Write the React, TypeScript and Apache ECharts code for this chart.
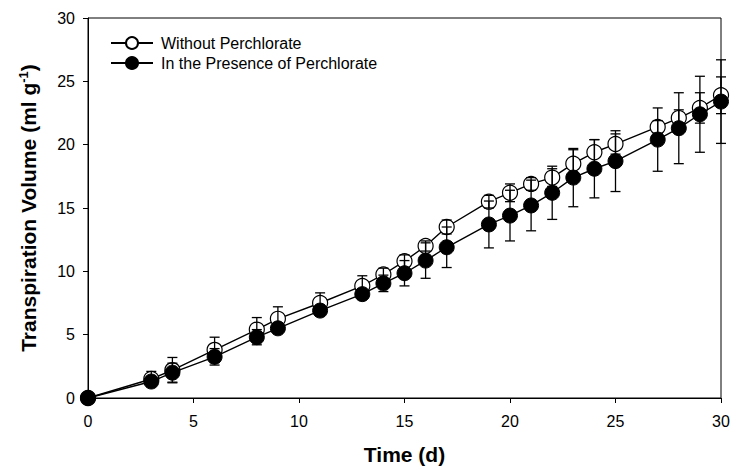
import React, { useEffect, useRef } from "react";
import * as echarts from "echarts";

const days = [0, 3, 4, 6, 8, 9, 11, 13, 14, 15, 16, 17, 19, 20, 21, 22, 23, 24, 25, 27, 28, 29, 30];
const withoutMean = [0, 1.5, 2.2, 3.8, 5.4, 6.25, 7.5, 8.85, 9.75, 10.8, 12.0, 13.5, 15.5, 16.2, 16.9, 17.4, 18.5, 19.4, 20.05, 21.4, 22.1, 22.9, 23.9];
const withoutErr = [0, 0.6, 1.0, 1.0, 0.95, 0.95, 0.8, 0.8, 0.5, 0.5, 0.4, 0.55, 0.5, 0.7, 0.5, 0.7, 1.1, 1.0, 0.8, 0.5, 0.65, 1.2, 1.45];
const withMean = [0, 1.3, 2.0, 3.25, 4.8, 5.5, 6.9, 8.2, 9.05, 9.85, 10.85, 11.9, 13.7, 14.4, 15.2, 16.2, 17.4, 18.1, 18.7, 20.4, 21.3, 22.4, 23.4];
const withErr = [0, 0.3, 0.75, 0.65, 0.6, 0.4, 0.3, 0.4, 0.65, 1.0, 1.4, 1.6, 1.85, 2.0, 2.0, 2.1, 2.3, 2.3, 2.4, 2.5, 2.8, 3.0, 3.3];
const xTicks = [0, 5, 10, 15, 20, 25, 30];
const yTicks = [0, 5, 10, 15, 20, 25, 30];
const seriesNames = ["Without Perchlorate", "In the Presence of Perchlorate"];

const FONT = "'Liberation Sans', Arial, sans-serif";

function errorData(mean: number[], err: number[]) {
  return days.map((d, i) => [d, mean[i] - err[i], mean[i] + err[i]]);
}

function renderErr(params: any, api: any) {
  const x = api.value(0);
  const lo = api.value(1);
  const hi = api.value(2);
  if (hi - lo <= 0) return null;
  const pLo = api.coord([x, lo]);
  const pHi = api.coord([x, hi]);
  const hw = 5;
  const style = { stroke: "#000", lineWidth: 1.3 };
  return {
    type: "group",
    children: [
      { type: "line", shape: { x1: pLo[0], y1: pLo[1], x2: pHi[0], y2: pHi[1] }, style },
      { type: "line", shape: { x1: pHi[0] - hw, y1: pHi[1], x2: pHi[0] + hw, y2: pHi[1] }, style },
      { type: "line", shape: { x1: pLo[0] - hw, y1: pLo[1], x2: pLo[0] + hw, y2: pLo[1] }, style },
    ],
  };
}

export default function App() {
  const ref = useRef<HTMLDivElement>(null);
  useEffect(() => {
    if (!ref.current) return;
    const chart = echarts.init(ref.current, null, { renderer: "svg" });
    chart.setOption({
      animation: false,
      backgroundColor: "#fff",
      textStyle: { fontFamily: FONT },
      grid: {
        left: 88,
        right: 15,
        top: 18,
        bottom: 72,
        show: true,
        borderColor: "#000",
        borderWidth: 1,
      },
      legend: {
        orient: "vertical",
        left: 110,
        top: 35,
        padding: 0,
        itemWidth: 42,
        itemHeight: 15,
        itemGap: 4,
        textStyle: { fontFamily: FONT, fontSize: 16, color: "#000", padding: [0, 0, 0, 3] },
        data: seriesNames,
      },
      xAxis: {
        type: "value",
        min: 0,
        max: 30,
        interval: 5,
        name: "Time (d)",
        nameLocation: "middle",
        nameGap: 46,
        nameTextStyle: { fontFamily: FONT, fontSize: 21, fontWeight: "bold", color: "#000" },
        axisLine: { show: true, lineStyle: { color: "#000", width: 1 } },
        axisTick: { show: true, inside: false, length: 5, lineStyle: { color: "#000" } },
        axisLabel: {
          margin: 15,
          fontFamily: FONT,
          fontSize: 16,
          color: "#000",
          formatter: (v: number) => (xTicks.includes(v) ? String(v) : ""),
        },
        splitLine: { show: false },
      },
      yAxis: {
        type: "value",
        min: 0,
        max: 30,
        interval: 5,
        name: "Transpiration Volume (ml g{sup|-1}{b|)}",
        nameLocation: "middle",
        nameGap: 49,
        nameTextStyle: {
          fontFamily: FONT,
          fontSize: 21,
          fontWeight: "bold",
          color: "#000",
          rich: {
            sup: { fontFamily: FONT, fontSize: 13, fontWeight: "bold", color: "#000", verticalAlign: "top", padding: [0, 0, 9, 0] },
            b: { fontFamily: FONT, fontSize: 21, fontWeight: "bold", color: "#000" },
          },
        },
        axisLine: { show: true, lineStyle: { color: "#000", width: 1 } },
        axisTick: { show: true, inside: false, length: 5, lineStyle: { color: "#000" } },
        axisLabel: {
          margin: 13,
          fontFamily: FONT,
          fontSize: 16,
          color: "#000",
          formatter: (v: number) => (yTicks.includes(v) ? String(v) : ""),
        },
        splitLine: { show: false },
      },
      series: [
        {
          name: seriesNames[0],
          type: "line",
          data: days.map((d, i) => [d, withoutMean[i]]),
          symbol: "circle",
          symbolSize: 15,
          z: 2,
          lineStyle: { color: "#000", width: 1.4 },
          itemStyle: { color: "#fff", borderColor: "#000", borderWidth: 1.2 },
        },
        {
          name: "errWithout",
          type: "custom",
          data: errorData(withoutMean, withoutErr),
          renderItem: renderErr,
          z: 3,
          silent: true,
        },
        {
          name: "errWith",
          type: "custom",
          data: errorData(withMean, withErr),
          renderItem: renderErr,
          z: 3,
          silent: true,
        },
        {
          name: seriesNames[1],
          type: "line",
          data: days.map((d, i) => [d, withMean[i]]),
          symbol: "circle",
          symbolSize: 15,
          z: 4,
          lineStyle: { color: "#000", width: 1.4 },
          itemStyle: { color: "#000", borderColor: "#000", borderWidth: 1 },
        },
      ],
    });
    return () => chart.dispose();
  }, []);
  return (
    <div
      ref={ref}
      style={{ position: "absolute", left: 0, top: 0, width: 736, height: 470 }}
    />
  );
}
